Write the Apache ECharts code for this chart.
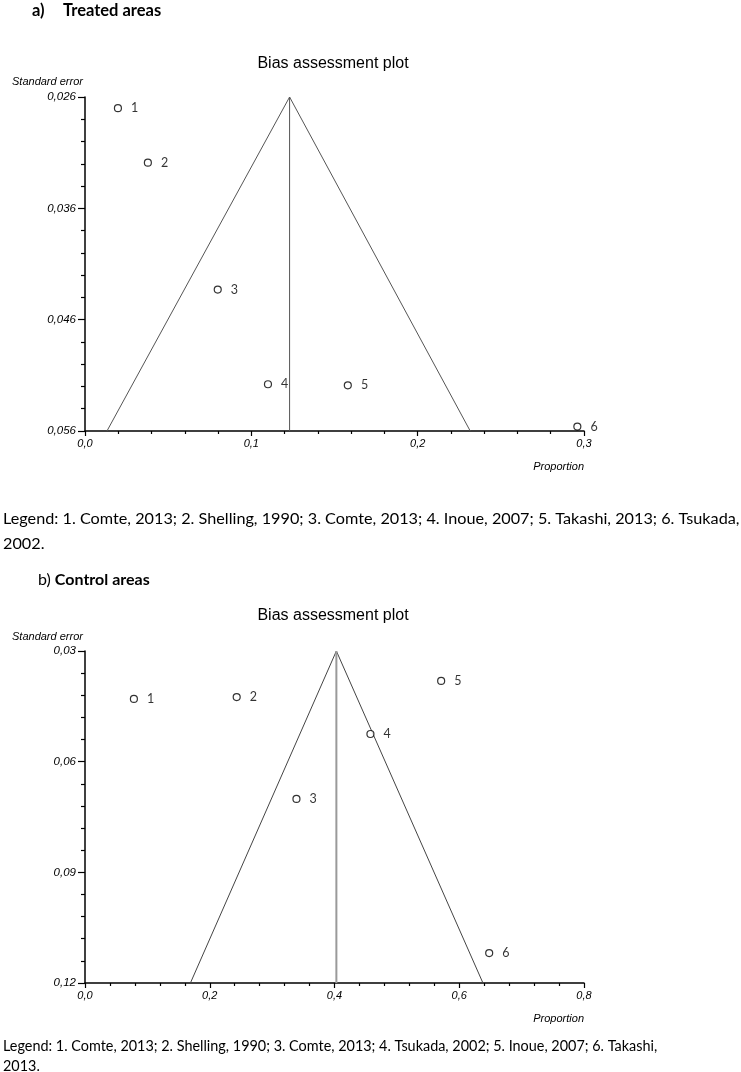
<!DOCTYPE html>
<html>
<head>
<meta charset="utf-8">
<script src="https://cdn.jsdelivr.net/npm/echarts@6/dist/echarts.min.js"></script>
<style>
  html, body { margin: 0; padding: 0; background: #fff; }
  #main { width: 741px; height: 1072px; }
</style>
</head>
<body>
<div id="main"></div>
<script>
// a) Treated areas
const propA = [0.0198, 0.0378, 0.0798, 0.110, 0.158, 0.296];
const seA = [0.0270, 0.0319, 0.0433, 0.0518, 0.0519, 0.0556];
const labelsA = ["1", "2", "3", "4", "5", "6"];
const funnelAX = [0.0132, 0.123, 0.2316];
const funnelAY = [0.056, 0.026, 0.056];

// b) Control areas
const propB = [0.0784, 0.2432, 0.339, 0.4576, 0.571, 0.648];
const seB = [0.0430, 0.0425, 0.0701, 0.0525, 0.0381, 0.1119];
const labelsB = ["1", "2", "3", "4", "5", "6"];
const funnelBX = [0.169, 0.403, 0.638];
const funnelBY = [0.12, 0.03, 0.12];

const legendA = ["Legend: 1. Comte, 2013; 2. Shelling, 1990; 3. Comte, 2013; 4. Inoue, 2007; 5. Takashi, 2013; 6. Tsukada,", "2002."];
const legendB = ["Legend: 1. Comte, 2013; 2. Shelling, 1990; 3. Comte, 2013; 4. Tsukada, 2002; 5. Inoue, 2007; 6. Takashi,", "2013."];

const serif = "Lato, 'Open Sans', sans-serif";
const arial = "'Liberation Sans', Arial, sans-serif";

// taille de police pour qu'une ligne tienne dans une largeur donnée
const ctx = document.createElement("canvas").getContext("2d");
function fitSize(text, width) {
  ctx.font = "100px " + serif;
  return (100 * width) / ctx.measureText(text).width;
}
const sizeLegA = fitSize(legendA[0], 737);
const sizeLegB = fitSize(legendB[0], 655);

const pairs = (xs, ys) => xs.map((x, i) => [x, ys[i]]);
const fmt = (d) => (v) => v.toFixed(d).replace(".", ",");

function xAxisOf(grid, max, interval) {
  return {
    type: "value", gridIndex: grid, min: 0, max: max, interval: interval,
    axisLine: { show: true, lineStyle: { color: "#000", width: 1.5 } },
    axisTick: { show: true, length: 5, lineStyle: { color: "#000", width: 1.2 } },
    minorTick: { show: true, splitNumber: 5, length: 3, lineStyle: { color: "#000", width: 1.2 } },
    splitLine: { show: false },
    axisLabel: { fontFamily: arial, fontStyle: "italic", fontSize: 11, color: "#000", margin: 7, formatter: fmt(1) }
  };
}
function yAxisOf(grid, min, max, interval, dec) {
  return {
    type: "value", gridIndex: grid, min: min, max: max, interval: interval, inverse: true,
    axisLine: { show: true, lineStyle: { color: "#000", width: 1.5 } },
    axisTick: { show: true, length: 7, lineStyle: { color: "#000", width: 1.2 } },
    minorTick: { show: true, splitNumber: 5, length: 4, lineStyle: { color: "#000", width: 1.2 } },
    splitLine: { show: false },
    axisLabel: { fontFamily: arial, fontStyle: "italic", fontSize: 11.5, color: "#000", margin: 9, formatter: fmt(dec) }
  };
}
function points(idx, xs, ys, labels) {
  return {
    type: "scatter", xAxisIndex: idx, yAxisIndex: idx, z: 5,
    data: pairs(xs, ys),
    symbol: "circle", symbolSize: 7,
    itemStyle: { color: "#fff", borderColor: "#000", borderWidth: 1.2 },
    label: {
      show: true, position: "right", distance: 9,
      fontFamily: serif, fontSize: 12.5, color: "#000",
      formatter: (p) => labels[p.dataIndex]
    }
  };
}
function line(idx, data, color, width) {
  return {
    type: "line", xAxisIndex: idx, yAxisIndex: idx, data: data,
    symbol: "none", silent: true, z: 2,
    lineStyle: { color: color, width: width }
  };
}
function txt(x, y, text, style) {
  return { type: "text", x: x, y: y, style: Object.assign({ text: text, fill: "#000", verticalAlign: "middle" }, style) };
}

const chart = echarts.init(document.getElementById("main"));
chart.setOption({
  animation: false,
  grid: [
    { left: 85, right: 157, top: 97, height: 334 },
    { left: 85, right: 157, top: 651, height: 332 }
  ],
  xAxis: [xAxisOf(0, 0.3, 0.1), xAxisOf(1, 0.8, 0.2)],
  yAxis: [yAxisOf(0, 0.026, 0.056, 0.01, 3), yAxisOf(1, 0.03, 0.12, 0.03, 2)],
  series: [
    line(0, pairs(funnelAX, funnelAY), "#555", 1),
    line(0, [[funnelAX[1], funnelAY[1]], [funnelAX[1], funnelAY[0]]], "#555", 1),
    points(0, propA, seA, labelsA),
    line(1, pairs(funnelBX, funnelBY), "#444", 1),
    line(1, [[funnelBX[1], funnelBY[1]], [funnelBX[1], funnelBY[0]]], "#9a9a9a", 2),
    points(1, propB, seB, labelsB)
  ],
  graphic: [
    txt(32, 11, "a)", { font: "bold 16.5px " + serif }),
    txt(63, 11, "Treated areas", { font: "bold 16.5px " + serif }),
    txt(333, 64, "Bias assessment plot", { font: "16px " + arial, align: "center" }),
    txt(12, 82, "Standard error", { font: "italic 11px " + arial }),
    txt(584, 467, "Proportion", { font: "italic 11px " + arial, align: "right" }),
    txt(3, 519, legendA[0], { font: sizeLegA + "px " + serif }),
    txt(3, 544, legendA[1], { font: sizeLegA + "px " + serif }),
    {
      type: "text", x: 38, y: 580,
      style: {
        text: "{r|b) }{b|Control areas}", verticalAlign: "middle",
        rich: {
          r: { fontFamily: serif, fontSize: 16, fill: "#000" },
          b: { fontFamily: serif, fontSize: 16, fontWeight: "bold", fill: "#000" }
        }
      }
    },
    txt(333, 616, "Bias assessment plot", { font: "16px " + arial, align: "center" }),
    txt(12, 637, "Standard error", { font: "italic 11px " + arial }),
    txt(584, 1019, "Proportion", { font: "italic 11px " + arial, align: "right" }),
    txt(3, 1046, legendB[0], { font: sizeLegB + "px " + serif }),
    txt(3, 1066, legendB[1], { font: sizeLegB + "px " + serif })
  ]
});
</script>
</body>
</html>
